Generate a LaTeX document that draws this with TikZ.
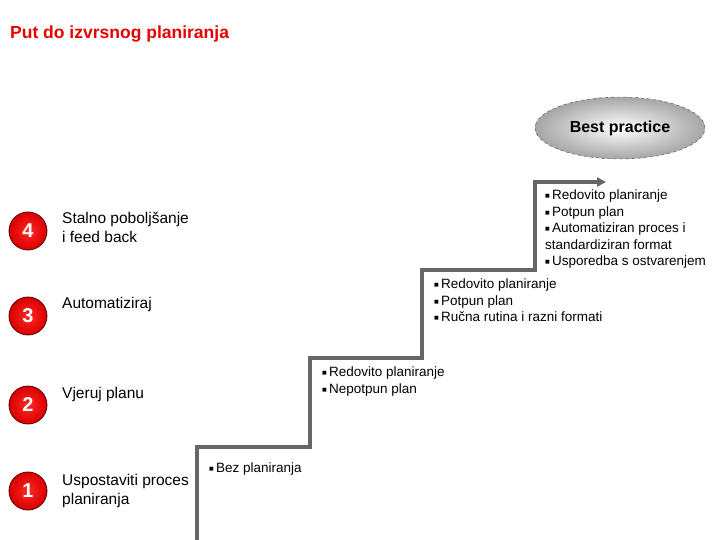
\documentclass[tikz,border=0pt]{standalone}
\usepackage{fontspec}
\setmainfont{Liberation Sans}
\newfontfamily\dv{DejaVu Sans}
\usetikzlibrary{shapes.geometric,arrows.meta}
\definecolor{tred}{RGB}{230,0,0}
\newcommand{\bl}{{\dv\fontsize{5}{5}\selectfont\raisebox{2pt}{■}}\,}
\tikzset{
  x=1pt,y=-1pt,
  num/.style={circle,minimum size=38pt,inner sep=0pt,inner color=red!85!white,outer color=red!85!black,draw=red!35!black,line width=0.8pt,text=white,font=\bfseries\fontsize{20}{20}\selectfont},
  lbl/.style={anchor=west,align=left,font=\fontsize{15.5}{19}\selectfont,inner sep=0pt},
  blt/.style={anchor=north west,align=left,font=\fontsize{13.5}{16.5}\selectfont,inner sep=0pt},
  stair/.style={draw=black!60,line width=3.5pt}
}
\begin{document}
\begin{tikzpicture}
\useasboundingbox (0,0) rectangle (720,540);
\node[anchor=west,text=tred,font=\bfseries\fontsize{17.5}{20}\selectfont,inner sep=0pt] (title) at (10,34) {Put do izvrsnog planiranja};
\node[ellipse,draw=black!70,dashed,minimum width=170pt,minimum height=62pt,inner color=white,outer color=black!35,font=\bfseries\fontsize{16}{18}\selectfont] (bp) at (620,128) {Best practice};
\node[num] (n4) at (28,231) {4};
\node[num] (n3) at (28,316) {3};
\node[num] (n2) at (28,405) {2};
\node[num] (n1) at (28,491) {1};
\node[lbl] (l4) at (62,227) {Stalno poboljšanje\\i feed back};
\node[lbl] (l3) at (62,304) {Automatiziraj};
\node[lbl] (l2) at (62,394) {Vjeruj planu};
\node[lbl] (l1) at (62,491) {Uspostaviti proces\\planiranja};
\coordinate (s0) at (197,540);
\coordinate (s1) at (197,447);
\coordinate (s2) at (310,447);
\coordinate (s3) at (310,358);
\coordinate (s4) at (422,358);
\coordinate (s5) at (422,270);
\coordinate (s6) at (535,270);
\coordinate (s7) at (535,182);
\coordinate (s8) at (606,182);
\draw[stair,-{Triangle[length=9pt,width=9pt]}] (s0)--(s1)--(s2)--(s3)--(s4)--(s5)--(s6)--(s7)--(s8);
\node[blt] (b1) at (209,463) {\bl Bez planiranja};
\node[blt] (b2) at (322,367) {\bl Redovito planiranje\\\bl Nepotpun plan};
\node[blt] (b3) at (434,279) {\bl Redovito planiranje\\\bl Potpun plan\\\bl Ručna rutina i razni formati};
\node[blt] (b4) at (545,190) {\bl Redovito planiranje\\\bl Potpun plan\\\bl Automatiziran proces i\\standardiziran format\\\bl Usporedba s ostvarenjem};
\end{tikzpicture}
\end{document}
